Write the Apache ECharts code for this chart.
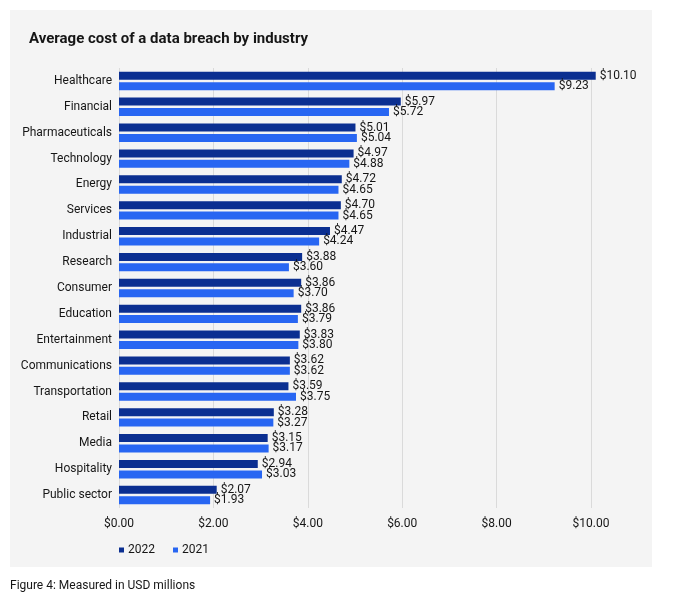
<!DOCTYPE html>
<html>
<head>
<meta charset="utf-8">
<script src="https://cdn.jsdelivr.net/npm/echarts@6/dist/echarts.min.js"></script>
<style>
html,body{margin:0;padding:0;background:#fff;}
#chart{width:676px;height:604px;}
</style>
</head>
<body>
<div id="chart"></div>
<script>
var categories = ["Healthcare","Financial","Pharmaceuticals","Technology","Energy","Services","Industrial","Research","Consumer","Education","Entertainment","Communications","Transportation","Retail","Media","Hospitality","Public sector"];
var values2022 = [10.10,5.97,5.01,4.97,4.72,4.70,4.47,3.88,3.86,3.86,3.83,3.62,3.59,3.28,3.15,2.94,2.07];
var values2021 = [9.23,5.72,5.04,4.88,4.65,4.65,4.24,3.60,3.70,3.79,3.80,3.62,3.75,3.27,3.17,3.03,1.93];
var xTicks = [0,2,4,6,8,10];

var FONT = 'Roboto, "Noto Sans", sans-serif';
var chart = echarts.init(document.getElementById('chart'), null, {renderer:'canvas'});
function money(v){ return '$' + Number(v).toFixed(2); }
chart.setOption({
  backgroundColor: '#ffffff',
  textStyle: {fontFamily: FONT},
  graphic: [
    {type:'rect', left:10, top:10, shape:{width:642, height:557}, style:{fill:'#f4f4f4'}, z:-10, silent:true},
    {type:'text', left:10, top:580, style:{text:'Figure 4: Measured in USD millions', fill:'#161616', font:'12px ' + FONT}}
  ],
  title: {
    text: 'Average cost of a data breach by industry',
    left: 24, top: 27,
    textStyle: {fontSize: 15, fontWeight: 'bold', color: '#161616', fontFamily: FONT}
  },
  legend: {
    left: 114, top: 539,
    icon: 'rect', itemWidth: 5, itemHeight: 5, itemGap: 18,
    textStyle: {fontSize: 12, color: '#161616', fontFamily: FONT, padding:[0,0,0,-1]},
    data: ['2022','2021']
  },
  grid: {left: 119, right: 85, top: 68, bottom: 96, containLabel: false},
  xAxis: {
    type: 'value', min: xTicks[0], max: xTicks[xTicks.length-1], interval: 2,
    axisLine: {show:false}, axisTick: {show:false},
    axisLabel: {formatter: money, color:'#161616', fontSize: 12, margin: 10, fontFamily: FONT},
    splitLine: {lineStyle: {color:'#dadada', width:1}}
  },
  yAxis: {
    type: 'category', data: categories, inverse: true,
    axisLine: {show:false}, axisTick: {show:false},
    axisLabel: {color:'#161616', fontSize: 12, margin: 7, fontFamily: FONT}
  },
  series: [
    {name:'2022', type:'bar', data: values2022, barWidth: 8, barGap: '30%', clip: false,
     itemStyle:{color:'#0b2f91'},
     label:{show:true, position:'right', distance:4, formatter:function(p){return money(p.value);}, color:'#161616', fontSize:12, fontFamily: FONT}},
    {name:'2021', type:'bar', data: values2021, barWidth: 8, clip: false,
     itemStyle:{color:'#2866f2'},
     label:{show:true, position:'right', distance:4, formatter:function(p){return money(p.value);}, color:'#161616', fontSize:12, fontFamily: FONT}}
  ]
});
</script>
</body>
</html>
